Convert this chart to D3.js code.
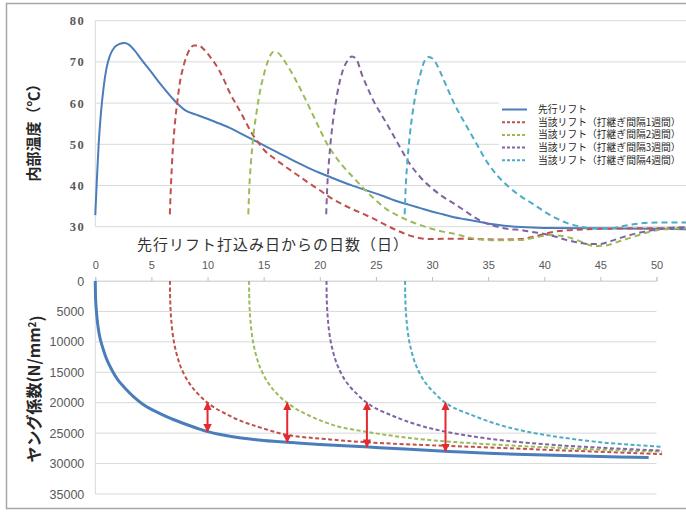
<!DOCTYPE html>
<html>
<head>
<meta charset="utf-8">
<script src="https://cdn.jsdelivr.net/npm/d3@7"></script>
<style>
  body { margin: 0; background: #fff; }
  svg { display: block; }
</style>
</head>
<body>
<svg id="chart" width="686" height="512"></svg>
<script>
// ---- axis ticks ----
const dayTicks = [0, 5, 10, 15, 20, 25, 30, 35, 40, 45, 50];
const tempTicks = [30, 40, 50, 60, 70, 80];
const modTicks = [0, 5000, 10000, 15000, 20000, 25000, 30000, 35000];

// ---- series ----
const seriesNames = [
  "先行リフト",
  "当該リフト（打継ぎ間隔1週間）",
  "当該リフト（打継ぎ間隔2週間）",
  "当該リフト（打継ぎ間隔3週間）",
  "当該リフト（打継ぎ間隔4週間）"
];
const seriesColors = ["#4a7ebb", "#c0504d", "#9bbb59", "#8064a2", "#4bacc6"];

// internal temperature [day, °C]
const tempLead = [[0,32.8],[0.15,42],[0.3,50],[0.5,57.5],[0.75,64],[1,68.5],[1.3,71.5],[1.7,73.5],[2.2,74.4],[2.6,74.6],[3,74.2],[3.5,72.8],[4,71],[5,67.5],[6,64],[7,60.8],[7.5,59.4],[8,58.3],[9,57.2],[10,56.2],[11,55.1],[12,54],[13,52.6],[14,51.2],[15,49.8],[16,48.4],[17,47],[18,45.6],[19,44.3],[20,43.1],[21,42],[22,40.9],[23,39.9],[24,39],[25,38.1],[26,37.1],[27,36.1],[28,35.3],[29,34.5],[30,33.7],[31,33],[32,32.3],[33,31.8],[34,31.3],[35,30.8],[36,30.4],[37,30.1],[38,29.9],[40,29.7],[45,29.6],[50,29.5],[52.7,29.4]];
const tempLift1 = [[6.65,33],[6.75,40],[6.9,48],[7.1,55],[7.3,60],[7.55,65],[7.9,69.3],[8.3,72.4],[8.8,74],[9.2,74],[9.7,73],[10.3,71],[11,68.2],[11.5,65.5],[12,62.5],[12.5,60],[13,57.6],[13.5,55],[14,52.5],[14.5,50.6],[15,48.8],[16,46.5],[17,44.5],[18,42.6],[19,40.7],[20,38.9],[21,37],[22,35.5],[23,34.2],[24,33],[25,31.7],[26,30.3],[27,29],[28,27.9],[29,27.2],[30,27],[32,27.1],[34,27],[36,26.9],[38,27],[39,27.5],[40,28.2],[41,28.8],[42,29.1],[44,29.4],[46,29.5],[48,29.6],[50,29.6],[52.7,29.7]];
const tempLift2 = [[13.65,33],[13.75,40],[13.9,46],[14.1,52],[14.4,58],[14.7,63],[15,66.5],[15.4,70.2],[15.9,72.4],[16.3,72.2],[16.8,70.5],[17.5,67.5],[18,65],[19,59.5],[20,53.8],[20.7,50],[21.3,47.5],[22,45],[23,42],[24,39.1],[25,36.5],[26,34.2],[27,32.7],[28,31.4],[29,30.4],[30,29.5],[31,28.8],[32,28.3],[33,27.6],[34,27],[36,26.7],[38,26.8],[39.5,27.5],[40.5,28],[41.5,27.8],[42.5,27.2],[43.5,26.2],[44.5,25.3],[45.5,25.4],[46.5,26.2],[47.5,27.1],[48.5,28],[49.5,28.8],[50.5,29.3],[52.7,29.6]];
const tempLift3 = [[20.6,33],[20.7,40],[20.85,46],[21.05,52],[21.3,57.5],[21.6,62.5],[22,67.2],[22.5,70.3],[22.9,71.3],[23.3,70.6],[23.8,66.8],[24.3,63.6],[25,59.6],[25.5,57.3],[26,55],[27,50.2],[28,45.5],[29,42],[30,39.4],[31,37.3],[32,35.6],[33,33.8],[34,32],[35,30.7],[36,29.9],[37,29.4],[38,29.2],[39,28.7],[40,28.3],[41,27.6],[42,26.8],[43,26.2],[44,25.8],[45,25.8],[46,26.5],[47,27.4],[48,28.2],[49,28.8],[50,29.3],[51,29.7],[52.7,29.9]];
const tempLift4 = [[27.6,33],[27.7,40],[27.85,46],[28.05,52],[28.3,57.5],[28.6,62.5],[29,67],[29.4,70.4],[29.75,71.2],[30.2,70.5],[30.8,67.4],[31.3,64.3],[32,60],[32.5,57.4],[33,55],[34,50.2],[35,45.5],[36,42],[37,39.4],[38,37.3],[39,35.6],[40,33.8],[41,32.2],[42,31],[43,30.2],[44,29.7],[45,29.5],[46,29.6],[47,30.1],[48,30.6],[49,30.9],[50,31],[52.7,31]];

// Young's modulus [day, N/mm²]
const modLead = [[0,0],[0.01,1800],[0.03,3000],[0.06,4000],[0.1,5000],[0.2,6900],[0.4,9200],[0.7,11200],[1,12800],[1.5,14700],[2,16200],[2.7,17700],[3.4,19000],[4.2,20200],[5,21100],[6,22000],[7,22800],[8,23500],[9,24150],[10,24750],[11.5,25350],[13,25800],[15,26200],[17.5,26550],[20,26850],[24,27250],[28,27650],[31.5,28000],[35,28300],[40,28600],[45,28850],[49.3,29000]];
const modLift1 = [[6.65,0],[6.66,2100],[6.68,3550],[6.71,4850],[6.75,6050],[6.85,8000],[7,9950],[7.15,11300],[7.4,13000],[7.65,14300],[8.15,16150],[8.65,17500],[9.15,18550],[9.65,19450],[10,20000],[10.65,20850],[11.65,21850],[12.65,22750],[13.65,23450],[14.65,24050],[17.1,25300],[20.4,25950],[24.2,26500],[29.2,26950],[33.7,27250],[39.7,27700],[44.7,28050],[50.5,28450]];
const modLift2 = [[13.7,0],[13.71,2100],[13.73,3550],[13.76,4850],[13.8,6050],[13.9,8000],[14.05,9950],[14.2,11300],[14.45,13000],[14.7,14300],[15.2,16150],[15.7,17500],[16.2,18550],[16.7,19450],[17.1,20000],[17.7,20800],[18.7,21800],[19.7,22650],[20.7,23350],[21.7,23950],[24.2,24800],[26.7,25500],[29.3,26050],[33.5,26650],[37.7,27100],[42.7,27550],[46.7,27850],[50.5,28050]];
const modLift3 = [[20.6,0],[20.611,2100],[20.632,3550],[20.665,4850],[20.71,6050],[20.815,8000],[20.975,9950],[21.14,11300],[21.4,13000],[21.675,14300],[22.2,16150],[22.75,17500],[23.3,18550],[23.8,19450],[24.2,20000],[24.9,20850],[26.3,22000],[27.6,22950],[29.3,23950],[31.2,24750],[33.5,25500],[36.6,26250],[40.6,26900],[45.1,27400],[50.5,27880]];
const modLift4 = [[27.6,0],[27.611,2100],[27.632,3550],[27.665,4850],[27.71,6050],[27.815,8000],[27.975,9950],[28.14,11300],[28.4,13000],[28.675,14300],[29.2,16150],[29.75,17500],[30.3,18550],[30.8,19450],[31.2,20000],[31.9,20800],[33.5,22000],[35.1,23100],[36.7,24000],[38.6,24800],[40.6,25450],[42.7,26000],[45.6,26600],[48.1,26950],[50.5,27250]];

// stiffness-gap arrows: day where each new lift reaches the reference modulus
const arrowDays = [10, 17.1, 24.2, 31.2];
const arrowTopValue = 20000;

const tempSeries = [tempLead, tempLift1, tempLift2, tempLift3, tempLift4];
const modSeries = [modLead, modLift1, modLift2, modLift3, modLift4];

// ---- layout ----
const svg = d3.select("#chart");
const left = 95.3;
const gridColor = "#d9d9d9";
const labelColor = "#595959";

const xTop = d3.scaleLinear().domain([0, 52.7]).range([left, 686]);
const yTop = d3.scaleLinear().domain([30, 80]).range([226.7, 20.7]);
const xBot = d3.scaleLinear().domain([0, 50]).range([left, 656.5]);
const yBot = d3.scaleLinear().domain([0, 35000]).range([281, 494]);

// outer frame
svg.append("rect")
  .attr("x", 6.5).attr("y", 3.5).attr("width", 690).attr("height", 505)
  .attr("fill", "none").attr("stroke", "#a6a6a6").attr("stroke-width", 1.5);

// ---- upper panel: internal temperature ----
const gTop = svg.append("g");
gTop.selectAll("line.grid").data(tempTicks).join("line")
  .attr("x1", left).attr("x2", 686)
  .attr("y1", d => yTop(d)).attr("y2", d => yTop(d))
  .attr("stroke", gridColor).attr("stroke-width", 1);
gTop.append("line")
  .attr("x1", left).attr("x2", left).attr("y1", yTop(80)).attr("y2", yTop(30))
  .attr("stroke", gridColor);

const yAxisTop = d3.axisLeft(yTop).tickValues(tempTicks).tickSize(0).tickPadding(10);
gTop.append("g").attr("transform", `translate(${left},0)`).call(yAxisTop)
  .call(g => g.select(".domain").remove())
  .selectAll("text")
  .attr("fill", labelColor)
  .style("font-family", "'Liberation Serif', 'DejaVu Serif', serif")
  .style("font-size", "12.5px")
  .style("font-weight", "bold")
  .style("letter-spacing", "1.5px");

const lineTop = d3.line().x(d => xTop(d[0])).y(d => yTop(d[1])).curve(d3.curveMonotoneX);
tempSeries.forEach((s, i) => {
  gTop.append("path").datum(s)
    .attr("d", lineTop)
    .attr("fill", "none")
    .attr("stroke", seriesColors[i])
    .attr("stroke-width", 2)
    .attr("stroke-dasharray", i === 0 ? null : "6,4");
});

// x-axis title
svg.append("text")
  .attr("x", 273).attr("y", 250)
  .attr("text-anchor", "middle")
  .attr("fill", "#333")
  .style("font-family", "'Noto Sans CJK JP', sans-serif")
  .style("font-size", "15px")
  .style("letter-spacing", "1px")
  .text("先行リフト打込み日からの日数（日）");

// y-axis title (temperature)
svg.append("text")
  .attr("transform", "translate(39,129) rotate(-90)")
  .attr("text-anchor", "middle")
  .attr("fill", "#262626")
  .style("font-family", "'Noto Sans CJK JP', sans-serif")
  .style("font-size", "15px")
  .style("font-weight", "bold")
  .text("内部温度（℃）");

// legend
const legend = svg.append("g");
legend.append("rect")
  .attr("x", 499).attr("y", 100).attr("width", 187).attr("height", 67)
  .attr("fill", "#fff");
seriesNames.forEach((name, i) => {
  const y = 109.5 + i * 12.7;
  legend.append("line")
    .attr("x1", 502).attr("x2", 527).attr("y1", y).attr("y2", y)
    .attr("stroke", seriesColors[i]).attr("stroke-width", 2)
    .attr("stroke-dasharray", i === 0 ? null : "3,2");
  legend.append("text")
    .attr("x", 538).attr("y", y).attr("dy", "0.36em")
    .attr("fill", "#262626")
    .style("font-family", "'Noto Sans CJK JP', sans-serif")
    .style("font-size", "9.8px")
    .text(name);
});

// ---- lower panel: Young's modulus ----
const gBot = svg.append("g");
gBot.selectAll("line.grid").data(modTicks).join("line")
  .attr("x1", left).attr("x2", 656.5)
  .attr("y1", d => yBot(d)).attr("y2", d => yBot(d))
  .attr("stroke", gridColor).attr("stroke-width", 1);
gBot.append("line")
  .attr("x1", left).attr("x2", left).attr("y1", yBot(0)).attr("y2", yBot(35000))
  .attr("stroke", gridColor);

const xAxisBot = d3.axisTop(xBot).tickValues(dayTicks).tickSize(4).tickPadding(8);
gBot.append("g").attr("transform", `translate(0,${yBot(0)})`).call(xAxisBot)
  .call(g => g.select(".domain").attr("stroke", gridColor))
  .call(g => g.selectAll(".tick line").attr("stroke", "#bfbfbf"))
  .selectAll("text")
  .attr("fill", labelColor)
  .style("font-family", "'Liberation Sans', Arial, sans-serif")
  .style("font-size", "11px");

const yAxisBot = d3.axisLeft(yBot).tickValues(modTicks).tickFormat(d3.format("d"))
  .tickSize(0).tickPadding(11);
gBot.append("g").attr("transform", `translate(${left},0)`).call(yAxisBot)
  .call(g => g.select(".domain").remove())
  .selectAll("text")
  .attr("fill", labelColor)
  .style("font-family", "'Liberation Sans', Arial, sans-serif")
  .style("font-size", "12.5px");

const lineBot = d3.line().x(d => xBot(d[0])).y(d => yBot(d[1])).curve(d3.curveCatmullRom.alpha(0.5));
modSeries.forEach((s, i) => {
  gBot.append("path").datum(s)
    .attr("d", lineBot)
    .attr("fill", "none")
    .attr("stroke", seriesColors[i])
    .attr("stroke-width", i === 0 ? 3 : 2)
    .attr("stroke-dasharray", i === 0 ? null : "4,2.5");
});

// y-axis title (Young's modulus)
const yTitle = svg.append("text")
  .attr("transform", "translate(40,389) rotate(-90)")
  .attr("text-anchor", "middle")
  .attr("fill", "#262626")
  .style("font-family", "'Noto Sans CJK JP', sans-serif")
  .style("font-size", "16px")
  .style("font-weight", "bold");
yTitle.append("tspan").text("ヤング係数(N/mm");
yTitle.append("tspan").attr("dy", "-0.45em").style("font-size", "10px").text("2");
yTitle.append("tspan").attr("dy", "0.45em").text(")");

// arrows between new lift (at reference modulus) and leading lift
const interp = (s, x) => {
  for (let k = 1; k < s.length; k++) {
    if (x <= s[k][0]) {
      const t = (x - s[k - 1][0]) / (s[k][0] - s[k - 1][0]);
      return s[k - 1][1] + t * (s[k][1] - s[k - 1][1]);
    }
  }
  return s[s.length - 1][1];
};
const defs = svg.append("defs");
defs.append("marker")
  .attr("id", "head")
  .attr("viewBox", "0 0 10 10")
  .attr("refX", 9).attr("refY", 5)
  .attr("markerWidth", 4.2).attr("markerHeight", 4.2)
  .attr("markerUnits", "strokeWidth")
  .attr("orient", "auto-start-reverse")
  .append("path").attr("d", "M0,0 L10,5 L0,10 z").attr("fill", "#e42a2f");

gBot.selectAll("line.arrow").data(arrowDays).join("line")
  .attr("x1", d => xBot(d)).attr("x2", d => xBot(d))
  .attr("y1", yBot(arrowTopValue))
  .attr("y2", d => yBot(interp(modLead, d)))
  .attr("stroke", "#e42a2f").attr("stroke-width", 2)
  .attr("marker-start", "url(#head)")
  .attr("marker-end", "url(#head)");
</script>
</body>
</html>
